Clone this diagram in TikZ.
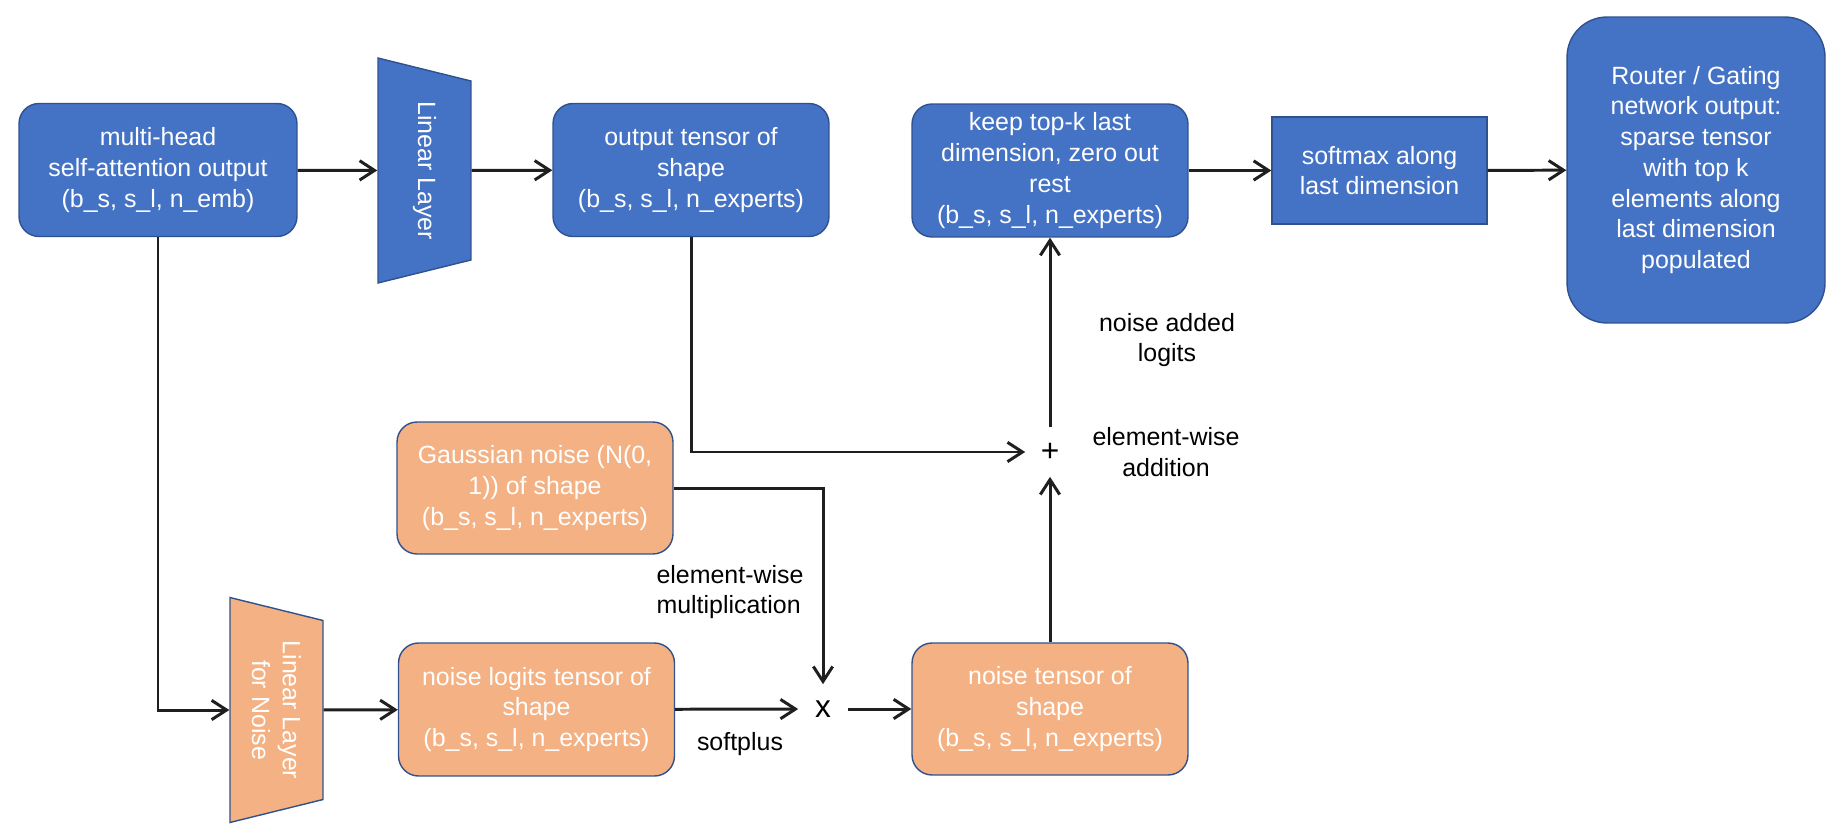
\documentclass[tikz,border=0pt]{standalone}
\usepackage{fontspec}
\setmainfont{Liberation Sans}
\usetikzlibrary{arrows.meta,shapes.geometric}
\definecolor{boxblue}{HTML}{4472C4}
\definecolor{boxline}{HTML}{2F528F}
\definecolor{boxorange}{HTML}{F4B183}
\definecolor{linegray}{HTML}{1F1F1F}
\newcommand{\diagfont}{\fontsize{14.2}{17.5}\selectfont}

\begin{document}
\begin{tikzpicture}[x=0.02cm,y=-0.02cm,>={Straight Barb[length=8.5pt,width=11pt]}]
  \tikzstyle{box}=[draw=boxline, line width=0.8pt, rounded corners=0.4cm, minimum width=5.52cm,
    minimum height=2.66cm, align=center, text=white, font=\diagfont, inner sep=2pt]
  \tikzstyle{bluebox}=[box, fill=boxblue]
  \tikzstyle{orangebox}=[box, fill=boxorange]
  \tikzstyle{layer}=[trapezium, trapezium left angle=76, trapezium right angle=76, trapezium stretches body,
    minimum width=4.5cm, minimum height=1.86cm, rotate=-90, draw=boxline, line width=0.8pt,
    text=white, align=center, font=\diagfont, inner xsep=1pt]
  \tikzstyle{lbl}=[align=center, font=\diagfont, text=black]
  \tikzstyle{op}=[font=\fontsize{18}{18}\selectfont, minimum size=0.98cm, inner sep=0pt]
  \tikzstyle{flow}=[->, draw=linegray, line width=1.7pt]

  \useasboundingbox (0,0) rectangle (1844,838);

  % Gating path
  \node[bluebox, minimum width=5.56cm] (mhsa) at (158,170) {multi-head\\self-attention output\\(b\_s, s\_l, n\_emb)};
  \node[layer, fill=boxblue, inner ysep=0.69cm] (lin) at (424.5,170.5) {Linear Layer};
  \node[bluebox] (logits) at (691,170) {output tensor of\\shape\\(b\_s, s\_l, n\_experts)};
  \node[bluebox] (topk) at (1050,170.5) {keep top-k last\\dimension, zero out\\rest\\(b\_s, s\_l, n\_experts)};
  \node[bluebox, sharp corners, minimum width=4.3cm, minimum height=2.14cm] (softmax) at (1379.5,170.5) {softmax along\\last dimension};
  \node[bluebox, rounded corners=0.8cm, minimum width=5.16cm, minimum height=6.12cm] (router) at (1696,170) {Router / Gating\\network output:\\sparse tensor\\with top k\\elements along\\last dimension\\populated};

  % Noise path
  \node[orangebox, minimum height=2.64cm] (gauss) at (535,488) {Gaussian noise (N(0,\\1)) of shape\\(b\_s, s\_l, n\_experts)};
  \node[layer, fill=boxorange, inner ysep=0.43cm] (linnoise) at (276.5,710) {Linear Layer\\for Noise};
  \node[orangebox] (noiselogits) at (536.5,709.5) {noise logits tensor of\\shape\\(b\_s, s\_l, n\_experts)};
  \node[op] (times) at (823,709) {x};
  \node[orangebox, minimum height=2.64cm] (noise) at (1050,709) {noise tensor of\\shape\\(b\_s, s\_l, n\_experts)};
  \node[op] (plus) at (1050,452) {+};

  % Labels
  \node[lbl] (addedlbl) at (1167,340) {noise added\\logits};
  \node[lbl] (addlbl) at (1166,452) {element-wise\\addition};
  \node[lbl, align=left] (multlbl) at (730,592) {element-wise\\multiplication};
  \node[lbl] (softpluslbl) at (740,744) {softplus};

  % Connectors
  \draw[flow] (mhsa) -- (lin);
  \draw[flow] (lin) -- (logits);
  \draw[flow] (topk) -- (softmax);
  \draw[flow] (softmax) -- (router);
  \draw[flow] (mhsa.south) |- (linnoise);
  \draw[flow] (linnoise) -- (noiselogits);
  \draw[flow] (logits.south) |- (plus);
  \draw[flow] (gauss.east) -| (times);
  \draw[flow] (noiselogits) -- (times);
  \draw[flow] (times) -- (noise);
  \draw[flow] (noise) -- (plus);
  \draw[flow] (plus) -- (topk);
\end{tikzpicture}
\end{document}
